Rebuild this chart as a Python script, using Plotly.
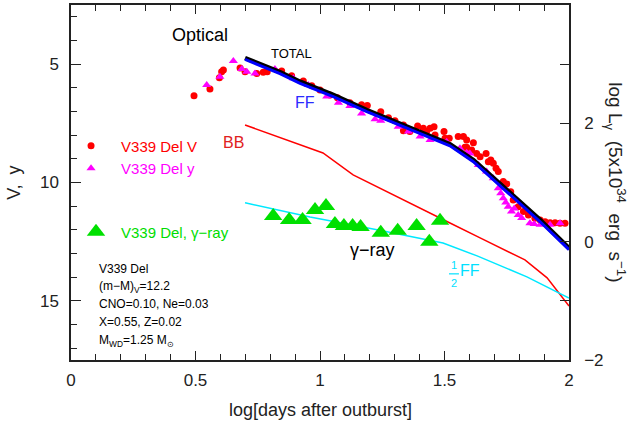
import plotly.graph_objects as go

# ---------------- data ----------------
# V339 Del V (red dots): log t, V mag
red_x = [0.494, 0.558, 0.596, 0.605, 0.612, 0.679, 0.699, 0.746, 0.772, 0.788, 0.846, 0.886, 0.933, 0.967,
         1.000, 1.040, 1.070, 1.120, 1.167, 1.190, 1.244, 1.275, 1.301, 1.335, 1.335, 1.361, 1.392, 1.415,
         1.428, 1.442, 1.458, 1.462, 1.498, 1.502, 1.519, 1.555, 1.576, 1.582, 1.589, 1.589, 1.609, 1.616,
         1.629, 1.643, 1.667, 1.676, 1.686, 1.696, 1.707, 1.716, 1.736, 1.750, 1.766, 1.776, 1.796, 1.817,
         1.837, 1.863, 1.884, 1.904, 1.924, 1.944, 1.964, 1.984]
red_v = [6.33, 6.05, 5.57, 5.32, 5.25, 5.16, 5.32, 5.39, 5.34, 5.32, 5.29, 5.49, 5.71, 5.91,
         6.09, 6.30, 6.42, 6.63, 6.72, 6.75, 7.01, 7.26, 7.39, 7.57, 7.81, 7.85, 7.61, 7.71,
         7.85, 7.71, 7.64, 7.99, 7.85, 8.13, 8.13, 8.06, 8.06, 8.51, 8.20, 8.51, 8.63, 8.32,
         8.77, 8.91, 8.77, 9.12, 9.05, 9.19, 9.40, 9.54, 9.96, 10.06, 10.39, 10.74, 11.02, 11.23,
         11.37, 11.51, 11.58, 11.66, 11.70, 11.70, 11.72, 11.72]

# V339 Del y (magenta triangles)
mag_x = [0.545, 0.598, 0.652, 0.686, 0.706, 0.739, 0.819, 0.893, 0.953, 1.027, 1.074, 1.120, 1.167,
         1.221, 1.244, 1.314, 1.355, 1.402, 1.442, 1.509, 1.562, 1.589, 1.602, 1.636, 1.669, 1.696,
         1.716, 1.726, 1.736, 1.746, 1.756, 1.769, 1.780, 1.796, 1.810, 1.843, 1.860, 1.884, 1.924, 1.964]
mag_v = [5.88, 5.53, 4.87, 5.20, 5.32, 5.39, 5.20, 5.60, 5.88, 6.37, 6.63, 6.77, 7.08,
         7.33, 7.39, 7.64, 7.85, 8.06, 8.20, 8.28, 8.55, 8.74, 8.77, 9.26, 9.54, 9.82,
         10.24, 10.45, 10.67, 10.85, 11.02, 11.23, 11.10, 11.37, 11.50, 11.72, 11.75, 11.79, 11.79, 11.72]

# gamma-ray (green triangles): log t, log L_gamma
gam_x = [0.812, 0.876, 0.930, 0.980, 1.024, 1.060, 1.096, 1.131, 1.163, 1.244, 1.312, 1.388, 1.439, 1.482]
gam_l = [0.434, 0.366, 0.366, 0.535, 0.603, 0.299, 0.265, 0.265, 0.248, 0.152, 0.186, 0.265, 0.000, 0.355]

# model light curves (V mag)
tot_x = [0.699, 0.839, 0.920, 1.053, 1.188, 1.321, 1.522, 1.616, 1.669, 1.750, 1.884, 2.000]
tot_v = [4.74, 5.33, 5.74, 6.30, 6.94, 7.50, 8.38, 9.05, 9.55, 10.32, 11.58, 12.77]

ff_x = [0.699, 0.839, 0.920, 1.053, 1.188, 1.321, 1.522, 1.616, 1.669, 1.750, 1.884, 2.000]
ff_v = [4.80, 5.40, 5.81, 6.37, 7.01, 7.57, 8.45, 9.12, 9.62, 10.40, 11.66, 12.84]

bb_x = [0.699, 1.012, 1.133, 1.309, 1.430, 1.522, 1.643, 1.823, 1.912, 2.000]
bb_v = [7.57, 8.75, 9.68, 10.61, 11.25, 11.71, 12.34, 13.27, 14.03, 15.22]

half_ff_x = [0.699, 0.960, 1.229, 1.494, 1.631, 1.831, 2.000]
half_ff_v = [10.86, 11.46, 12.00, 12.56, 13.10, 13.99, 14.88]

x_ticks = [0, 0.5, 1, 1.5, 2]

FONT = "Liberation Sans"

fig = go.Figure()

fig.add_trace(go.Scatter(x=red_x, y=red_v, mode="markers",
                         marker=dict(symbol="circle", size=7, color="#ff0000"),
                         name='<span style="color:#ff0000">V339 Del V</span>', legend="legend"))
fig.add_trace(go.Scatter(x=mag_x, y=mag_v, mode="markers",
                         marker=dict(symbol="triangle-up", size=8, color="#ff00ff"),
                         name='<span style="color:#ff00ff">V339 Del y</span>', legend="legend"))
fig.add_trace(go.Scatter(x=bb_x, y=bb_v, mode="lines", line=dict(color="#ff0000", width=1.5),
                         showlegend=False))
fig.add_trace(go.Scatter(x=half_ff_x, y=half_ff_v, mode="lines", line=dict(color="#00e8ff", width=1.5),
                         showlegend=False))
fig.add_trace(go.Scatter(x=gam_x, y=gam_l, mode="markers", yaxis="y2",
                         marker=dict(symbol="triangle-up", size=16, color="#00e000"),
                         name='<span style="color:#00dd00">V339 Del, γ−ray</span>', legend="legend2"))
fig.add_trace(go.Scatter(x=tot_x, y=tot_v, mode="lines", line=dict(color="#000000", width=4.5),
                         showlegend=False))
fig.add_trace(go.Scatter(x=ff_x, y=ff_v, mode="lines", line=dict(color="#0000ff", width=3),
                         showlegend=False))

ann = []
def A(text, x, y, size, color="#000000", xanchor="center", **kw):
    ann.append(dict(text=text, x=x, y=y, xref="x", yref="y", showarrow=False,
                    font=dict(family=FONT, size=size, color=color), xanchor=xanchor, yanchor="middle", **kw))

A("Optical", 0.52, 3.77, 18)
A("TOTAL", 0.884, 4.56, 13)
A("FF", 0.94, 6.62, 16, "#2a2aff")
A("BB", 0.652, 8.31, 16, "#e02020")
A("γ−ray", 1.209, 12.85, 18)
A("1", 1.538, 13.48, 11, "#00e0ff")
A("2", 1.538, 14.24, 11, "#00e0ff")
A("FF", 1.602, 13.70, 16, "#00e0ff")

info = ["V339 Del", "(m−M)<sub>V</sub>=12.2", "CNO=0.10, Ne=0.03", "X=0.55, Z=0.02",
        "M<sub>WD</sub>=1.25 M<sub>⊙</sub>"]
info_y = [13.65, 14.42, 15.13, 15.89, 16.69]
for t, yy in zip(info, info_y):
    A(t, 0.105, yy, 12, xanchor="left")

# axis titles
ann.append(dict(text="V,  y", x=-0.14, y=0.5, xref="paper", yref="paper", showarrow=False,
                textangle=-90, font=dict(family=FONT, size=18, color="#222")))
ann.append(dict(text="log L<sub>γ</sub>\u00a0 (5x10<sup>34</sup>\u00a0 erg\u00a0 s<sup>−1</sup>)", x=1.124, y=0.5,
                xref="paper", yref="paper", showarrow=False, textangle=90,
                font=dict(family=FONT, size=19, color="#222")))
ann.append(dict(text="log[days after outburst]", x=0.5, y=-(410 - 360) / 355.0, xref="paper", yref="paper",
                yanchor="middle", showarrow=False, font=dict(family=FONT, size=18, color="#222")))

shapes = [dict(type="line", xref="x", yref="y", x0=1.518, x1=1.558, y0=13.86, y1=13.86,
               line=dict(color="#00e0ff", width=1.2))]

axis_common = dict(showline=True, linecolor="#222", linewidth=1.5, ticks="inside",
                   tickcolor="#222", tickwidth=1.2, showgrid=False, zeroline=False, automargin=False,
                   tickfont=dict(family=FONT, size=17, color="#222"))

fig.update_layout(
    width=637, height=434,
    margin=dict(l=71, r=68, t=5, b=74, autoexpand=False),
    paper_bgcolor="white", plot_bgcolor="white",
    xaxis=dict(range=[0, 2], tickvals=x_ticks, ticklen=9, mirror="ticks",
               minor=dict(dtick=0.1, ticklen=6, ticks="inside", tickcolor="#222", tickwidth=1.2),
               ticklabelstandoff=4, **axis_common),
    yaxis=dict(range=[17.5, 2.5], tick0=0, dtick=5, ticklen=10,
               minor=dict(dtick=1, ticklen=6, ticks="inside", tickcolor="#222", tickwidth=1.2),
               ticklabelstandoff=7, **axis_common),
    yaxis2=dict(range=[-2, 4], tick0=0, dtick=2, ticklen=9, overlaying="y", side="right",
                minor=dict(dtick=1, ticklen=9, ticks="inside", tickcolor="#222", tickwidth=1.2),
                ticklabelstandoff=10, **axis_common),
    legend=dict(x=-0.02, y=0.572, xanchor="left", yanchor="middle", bgcolor="rgba(0,0,0,0)",
                itemwidth=50, font=dict(family=FONT, size=15), tracegroupgap=0),
    legend2=dict(x=0.0, y=0.3606, xanchor="left", yanchor="middle", bgcolor="rgba(0,0,0,0)",
                 itemwidth=40, font=dict(family=FONT, size=15)),
    annotations=ann, shapes=shapes,
)

fig.write_html("out.html", config={"displayModeBar": False},
               post_script="document.body.style.margin='0px';")
